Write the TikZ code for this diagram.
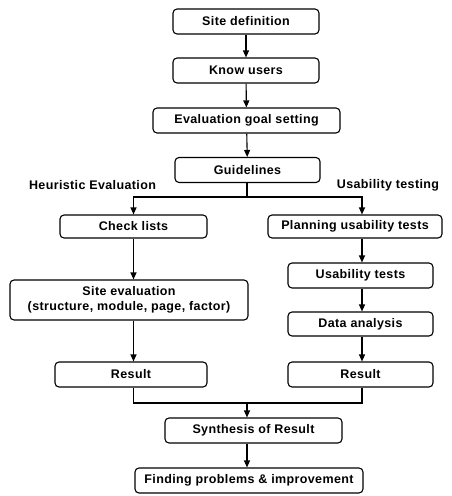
\documentclass[tikz,border=0pt]{standalone}
\usepackage{fontspec}
\setmainfont{Liberation Sans}[LetterSpace=3]
\usetikzlibrary{arrows.meta}
\begin{document}
\begin{tikzpicture}[x=1pt,y=-1pt, line width=1.1pt, every node/.style={font=\fontsize{12.5}{14.5}\selectfont\bfseries},
  box/.style={draw,rounded corners=4pt,minimum height=25pt,inner sep=2pt,align=center},
  arr/.style={-{Triangle[length=7pt,width=6pt]}}]
\useasboundingbox (0,0) rectangle (451,496);
\node[box,minimum width=146pt] (site) at (246,21.5) {Site definition};
\node[box,minimum width=146pt] (users) at (246,70.5) {Know users};
\node[box,minimum width=187pt] (goal) at (246.5,120.5) {Evaluation goal setting};
\node[box,minimum width=145pt] (guide) at (247.5,170) {Guidelines};
\node (heur) at (92.5,185) {Heuristic Evaluation};
\node (usab) at (388,185) {Usability testing};
\node[box,minimum width=147pt,minimum height=23pt] (check) at (133.5,226.5) {Check lists};
\node[box,minimum width=174pt,minimum height=23pt] (plan) at (355,226.5) {Planning usability tests};
\node[box,minimum width=145pt] (tests) at (360.5,275.5) {Usability tests};
\node[box,minimum width=238pt,minimum height=40pt] (sitev) at (129,300) {Site evaluation\\(structure, module, page, factor)};
\node[box,minimum width=145pt,minimum height=24pt] (data) at (360.5,324) {Data analysis};
\node[box,minimum width=152pt] (resl) at (131,374.5) {Result};
\node[box,minimum width=145pt] (resr) at (360.5,374.5) {Result};
\node[box,minimum width=177pt] (synth) at (253.5,430.5) {Synthesis of Result};
\node[box,minimum width=228pt] (find) at (249,480.5) {Finding problems \& improvement};
\coordinate (split) at (247,197);
\coordinate (join) at (247,403);
\draw[arr] (site) -- (users);
\draw[arr] (users) -- (goal);
\draw[arr] (goal) -- (guide);
\draw (guide.south -| split) -- (split);
\draw[arr] (split) -| (check.north);
\draw[arr] (split) -| (362,0 |- plan.north);
\draw[arr] (check.south) -- (check.south |- sitev.north);
\draw[arr] (check.south |- sitev.south) -- (check.south |- resl.north);
\draw[arr] (362,0 |- plan.south) -- (362,0 |- tests.north);
\draw[arr] (362,0 |- tests.south) -- (362,0 |- data.north);
\draw[arr] (362,0 |- data.south) -- (362,0 |- resr.north);
\draw (check.south |- resl.south) |- (join) -| (362,0 |- resr.south);
\draw[arr] (join) -- (join |- synth.north);
\draw[arr] (join |- synth.south) -- (join |- find.north);
\end{tikzpicture}
\end{document}
